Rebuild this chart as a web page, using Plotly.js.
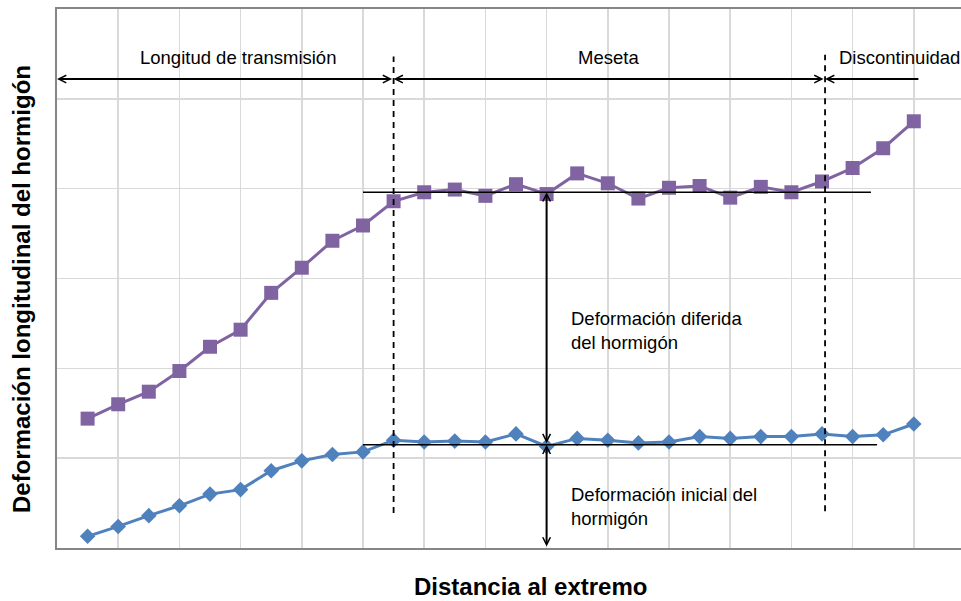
<!DOCTYPE html>
<html>
<head>
<meta charset="utf-8">
<script src="https://cdn.plot.ly/plotly-3.0.1.min.js"></script>
<style>html,body{margin:0;padding:0;background:#fff;overflow:hidden}#chart{width:961px;height:601px}</style>
</head>
<body>
<div id="chart"></div>
<script>
// Posiciones de medida (distancia al extremo, unidades arbitrarias)
const posiciones = [1,2,3,4,5,6,7,8,9,10,11,12,13,14,15,16,17,18,19,20,21,22,23,24,25,26,27,28];
// Deformación total (inicial + diferida) – serie morada
const deformacionTotal = [1.44,1.60,1.74,1.97,2.24,2.43,2.84,3.12,3.42,3.59,3.86,3.96,3.99,3.92,4.05,3.94,4.17,4.06,3.89,4.01,4.03,3.90,4.02,3.96,4.08,4.23,4.45,4.75];
// Deformación inicial – serie azul
const deformacionInicial = [0.13,0.24,0.36,0.47,0.60,0.65,0.86,0.97,1.04,1.07,1.20,1.18,1.19,1.18,1.27,1.13,1.22,1.20,1.17,1.18,1.24,1.22,1.24,1.24,1.27,1.24,1.26,1.38];

// Zonas y niveles de referencia
const limiteTransmision = 11;
const limiteDiscontinuidad = 25.1;
const finDiscontinuidad = 28.2;
const nivelMeseta = 3.96;
const nivelInicial = 1.15;
const nivelFlechas = 5.22;
const xFlechaVertical = 16;

const etiquetasZonas = ["Longitud de transmisión", "Meseta", "Discontinuidad"];
const textoDiferida = "Deformación diferida<br>del hormigón";
const textoInicial = "Deformación inicial del<br>hormigón";
const tituloX = "Distancia al extremo";
const tituloY = "Deformación longitudinal del hormigón";

const traces = [
  {x: posiciones, y: deformacionTotal, type: 'scatter', mode: 'lines+markers',
   line: {color: '#8064a2', width: 3}, marker: {symbol: 'square', size: 14, color: '#8064a2'},
   hoverinfo: 'skip', showlegend: false},
  {x: posiciones, y: deformacionInicial, type: 'scatter', mode: 'lines+markers',
   line: {color: '#4f81bd', width: 3}, marker: {symbol: 'diamond', size: 12, color: '#4f81bd'},
   hoverinfo: 'skip', showlegend: false}
];

const fontTxt = {family: 'Liberation Sans, Arial, sans-serif', size: 18.5, color: '#000'};
const fontTit = {family: 'Liberation Sans, Arial, sans-serif', size: 24, color: '#000'};

function flecha(x, y, ax, ay, side) {
  return {x: x, y: y, ax: ax, ay: ay, xref: 'x', yref: 'y', axref: 'x', ayref: 'y',
    text: '', showarrow: true, arrowhead: 5, startarrowhead: 5, arrowside: side,
    arrowsize: 0.75, startarrowsize: 0.75, arrowwidth: 2, arrowcolor: '#000', standoff: 0, startstandoff: 0};
}

const annotations = [
  flecha(0, nivelFlechas, limiteTransmision, nivelFlechas, 'end+start'),
  flecha(limiteTransmision, nivelFlechas, limiteDiscontinuidad, nivelFlechas, 'end+start'),
  flecha(limiteDiscontinuidad, nivelFlechas, finDiscontinuidad, nivelFlechas, 'end'),
  flecha(xFlechaVertical, nivelMeseta, xFlechaVertical, nivelInicial, 'end+start'),
  flecha(xFlechaVertical, nivelInicial, xFlechaVertical, 0, 'end+start'),
  {x: 5.9, y: 5.455, xref: 'x', yref: 'y', text: etiquetasZonas[0], showarrow: false, font: fontTxt, xanchor: 'center', yanchor: 'middle'},
  {x: 18.03, y: 5.455, xref: 'x', yref: 'y', text: etiquetasZonas[1], showarrow: false, font: fontTxt, xanchor: 'center', yanchor: 'middle'},
  {x: 25.48, y: 5.455, xref: 'x', yref: 'y', text: etiquetasZonas[2], showarrow: false, font: fontTxt, xanchor: 'left', yanchor: 'middle'},
  {x: 16.73, y: 2.416, xref: 'x', yref: 'y', text: textoDiferida, showarrow: false, font: fontTxt, xanchor: 'left', yanchor: 'middle', align: 'left'},
  {x: 16.73, y: 0.46, xref: 'x', yref: 'y', text: textoInicial, showarrow: false, font: fontTxt, xanchor: 'left', yanchor: 'middle', align: 'left'},
  {x: 0, y: 0, xref: 'paper', yref: 'paper', text: '<b>' + tituloX + '</b>', showarrow: false, font: fontTit,
   xanchor: 'center', yanchor: 'middle'},
  {x: 0, y: 0, xref: 'paper', yref: 'paper', text: '<b>' + tituloY + '</b>', showarrow: false, font: fontTit,
   textangle: -90, xanchor: 'center', yanchor: 'middle'}
];

const shapes = [
  {type: 'line', xref: 'x', yref: 'y', x0: limiteTransmision, x1: limiteTransmision, y0: 0.39, y1: 5.47,
   line: {color: '#000', width: 1.8, dash: '6px,5px'}},
  {type: 'line', xref: 'x', yref: 'y', x0: limiteDiscontinuidad, x1: limiteDiscontinuidad, y0: 0.41, y1: 5.49,
   line: {color: '#000', width: 1.8, dash: '6px,5px'}},
  {type: 'line', xref: 'x', yref: 'y', x0: 10.0, x1: 26.6, y0: nivelMeseta, y1: nivelMeseta,
   line: {color: '#000', width: 1.6}},
  {type: 'line', xref: 'x', yref: 'y', x0: 10.0, x1: 26.8, y0: nivelInicial, y1: nivelInicial,
   line: {color: '#000', width: 1.6}}
];

const W = 961, H = 601, L = 57, R = 0, T = 9, B = 53;
const pw = W - L - R, ph = H - T - B;
// convert title pixel positions to paper coords
annotations[annotations.length - 2].x = (530 - L) / pw;
annotations[annotations.length - 2].y = (H - B - 586) / ph;
annotations[annotations.length - 1].x = (21 - L) / pw;
annotations[annotations.length - 1].y = (H - B - 289) / ph;

const layout = {
  width: W, height: H,
  margin: {l: L, r: R, t: T, b: B, pad: 0},
  paper_bgcolor: '#fff', plot_bgcolor: '#fff',
  showlegend: false,
  xaxis: {range: [0, 30 * pw / 918], tick0: 0, dtick: 2, showgrid: true, gridcolor: '#d9d9d9', gridwidth: 1.5,
    showline: true, linecolor: '#868686', linewidth: 2, mirror: true, zeroline: false,
    showticklabels: false, ticks: ''},
  yaxis: {range: [0, 6], tick0: 0, dtick: 1, showgrid: true, gridcolor: '#d9d9d9', gridwidth: 1.5,
    showline: true, linecolor: '#868686', linewidth: 2, mirror: false, zeroline: false,
    showticklabels: false, ticks: ''},
  annotations: annotations,
  shapes: shapes
};

Plotly.newPlot('chart', traces, layout, {displayModeBar: false, staticPlot: true});
</script>
</body>
</html>
